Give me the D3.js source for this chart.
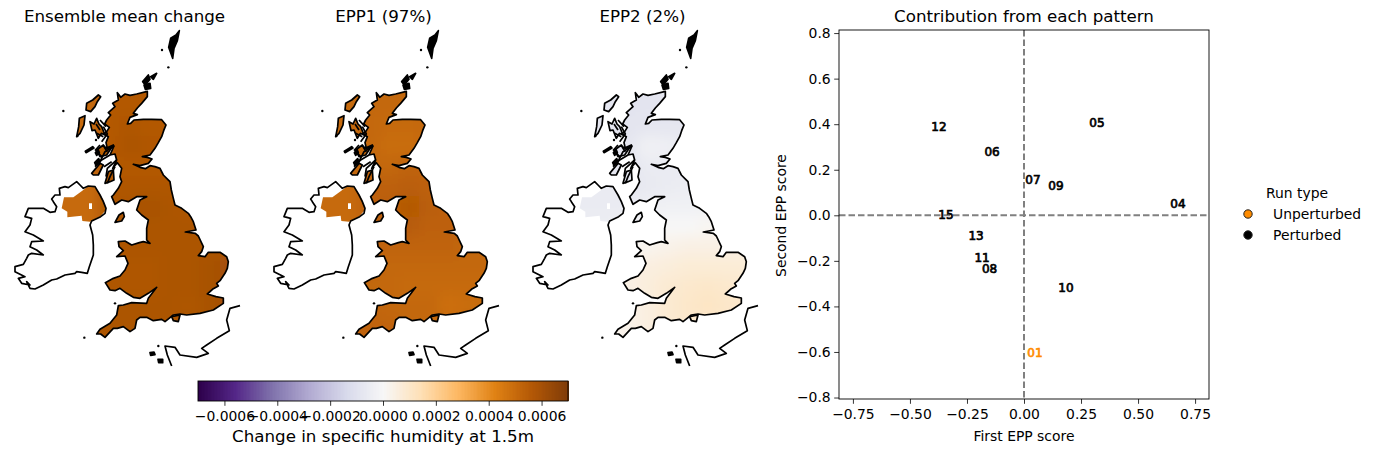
<!DOCTYPE html>
<html><head><meta charset="utf-8">
<script src="https://cdn.jsdelivr.net/npm/d3@7"></script>
<style>
html,body{margin:0;padding:0;background:#fff}
svg{display:block;font-family:"DejaVu Sans",sans-serif}
</style></head><body>
<div id="chart"></div>
<script>
// ---------- data ----------
const panelTitles = ["Ensemble mean change","EPP1 (97%)","EPP2 (2%)"];
// coastlines as [easting, southing] in model-grid units
const coastGB = [[352,218],[358,226],[362,232],[375,222],[390,226],[410,222],[442,214],[442,230],[425,250],[412,264],[400,280],[412,284],[390,292],[382,312],[392,310],[402,300],[430,298],[455,298],[485,299],[498,315],[491,332],[485,350],[475,368],[465,385],[450,405],[427,410],[442,412],[456,417],[445,430],[420,437],[400,433],[420,442],[436,446],[450,437],[465,440],[480,445],[490,465],[503,478],[510,485],[514,510],[520,535],[525,555],[545,565],[565,580],[572,590],[580,605],[588,630],[556,636],[586,640],[595,648],[610,680],[605,695],[595,707],[615,710],[625,697],[660,697],[680,710],[685,725],[682,745],[675,760],[660,782],[650,790],[655,798],[640,806],[622,822],[648,830],[670,834],[670,850],[640,870],[600,880],[560,885],[540,882],[520,885],[510,893],[495,905],[485,898],[460,902],[440,892],[420,892],[410,900],[405,925],[390,935],[370,920],[352,925],[340,925],[315,952],[302,942],[290,942],[300,928],[330,910],[350,885],[355,857],[370,855],[395,848],[440,850],[445,835],[470,802],[445,820],[420,835],[400,832],[380,820],[360,805],[345,812],[330,810],[316,788],[340,775],[360,768],[375,750],[384,730],[375,708],[350,710],[370,692],[357,680],[355,665],[375,663],[395,675],[418,668],[430,665],[450,670],[440,660],[440,625],[445,600],[425,585],[410,570],[420,540],[440,530],[410,530],[385,545],[365,540],[345,553],[335,530],[340,525],[355,505],[365,485],[360,470],[365,445],[352,428],[338,445],[350,420],[345,402],[330,405],[342,378],[322,385],[318,368],[325,350],[312,342],[320,335],[328,322],[314,312],[320,300],[332,285],[325,278],[345,260],[338,250],[355,240]];
const coastIreland = [[155,537],[165,525],[180,525],[178,505],[195,500],[205,503],[230,485],[240,495],[250,505],[265,498],[285,500],[300,525],[310,545],[318,565],[315,580],[302,590],[275,603],[270,615],[278,645],[280,675],[280,705],[268,740],[262,760],[245,757],[230,755],[225,760],[195,765],[170,777],[155,780],[130,795],[105,807],[90,805],[80,785],[90,795],[65,790],[55,775],[75,770],[45,755],[45,740],[70,733],[80,715],[85,705],[95,700],[130,705],[110,690],[90,680],[95,665],[130,663],[100,645],[75,635],[90,615],[95,595],[75,590],[85,565],[130,565],[150,577],[165,575],[170,560],[160,545]];
const islands = [
 [[260,250],[278,240],[295,225],[302,230],[292,245],[285,260],[272,275],[258,270]],
 [[238,295],[255,287],[252,315],[240,340],[230,350],[236,320]],
 [[270,305],[282,312],[290,295],[297,312],[305,320],[315,345],[304,340],[295,355],[285,330],[276,332]],
 [[290,390],[310,375],[318,385],[340,375],[320,405],[300,410]],
 [[275,460],[300,430],[310,435],[295,465],[280,465]],
 [[315,490],[325,455],[340,450],[342,480],[330,485]],
 [[345,607],[357,585],[370,577],[373,590],[365,603]],
 [[515,890],[540,885],[535,905],[520,902]]
];
const blackIslands = [
 [[538,32],[528,45],[512,55],[506,82],[518,115],[522,85],[532,62]],
 [[428,185],[445,165],[450,178],[436,195]],
 [[432,195],[450,190],[452,205],[436,208]],
 [[452,170],[470,160],[460,178]],
 [[450,998],[462,996],[465,1004],[452,1006]],
 [[474,1018],[488,1018],[488,1028],[476,1028]],
 [[256,394],[278,380],[282,384],[258,398]],
 [[284,428],[296,416],[300,426],[288,436]],
 [[286,398],[294,388],[298,398],[290,406]]
];
const lochs = [
 [[342,378],[315,395],[300,425]],
 [[350,420],[322,445],[318,470]],
 [[330,405],[305,420],[285,440]],
 [[310,320],[322,342],[305,365]],
 [[290,340],[310,350]],
 [[345,440],[330,470],[322,490]],
 [[300,375],[285,392]],
 [[300,300],[318,320]],
 [[288,312],[300,330]],
 [[312,380],[322,395]],
 [[296,400],[306,412]],
 [[335,425],[312,440]]
];
const specks = [[190,273],[486,90],[505,142],[345,850],[253,953],[232,348],[288,360],[475,978]];
const coastFrance = [[720,857],[690,865],[680,900],[688,932],[650,955],[620,975],[605,985],[625,1000],[590,1012],[540,1005],[525,982],[495,978],[502,1005],[515,1038]];
const landNI = [[192,532],[185,565],[202,575],[202,592],[245,587],[247,603],[270,605],[300,590],[318,570],[310,540],[295,515],[285,502],[265,498],[250,510],[220,532]];
const holeNI = [[267,550],[276,550],[276,567],[267,567]];
// coarse field rows (values in 1e-4 specific humidity), cell centres on these axes
const fieldEast = [210,270,330,390,450,510,570,630,690];
const fieldSouth = [200,260,320,380,440,500,560,620,680,740,800,860,920,980];
const fieldMean = [
 [5.0,5.0,5.6,5.6,5.6,5.6,5.6,5.6,5.6],
 [5.0,5.0,5.6,5.6,5.6,5.6,5.6,5.6,5.6],
 [5.0,5.0,5.6,5.7,5.6,5.6,5.6,5.6,5.6],
 [5.0,5.0,5.6,5.8,5.7,5.6,5.6,5.6,5.6],
 [5.0,5.0,5.6,5.6,5.6,5.6,5.6,5.6,5.6],
 [5.0,5.0,5.7,5.7,5.7,5.7,5.7,5.7,5.7],
 [5.0,5.0,5.7,5.8,5.9,5.8,5.7,5.7,5.7],
 [5.0,5.0,5.7,5.8,5.8,5.8,5.8,5.7,5.7],
 [5.7,5.7,5.7,5.8,5.8,5.8,5.8,5.8,5.8],
 [5.7,5.7,5.7,5.7,5.7,5.8,5.8,5.9,6.0],
 [5.7,5.7,5.7,5.7,5.7,5.8,5.8,5.9,6.0],
 [5.7,5.7,5.8,5.8,5.8,5.8,5.7,5.9,6.0],
 [5.7,5.7,5.8,5.8,5.8,5.8,5.8,5.9,6.0],
 [5.7,5.7,5.8,5.8,5.8,5.8,5.8,5.9,6.0]];
const fieldEpp1 = [
 [5.0,5.0,5.1,5.1,5.1,5.1,5.1,5.1,5.1],
 [5.0,5.0,5.1,5.1,5.1,5.1,5.1,5.1,5.1],
 [5.0,5.0,5.1,5.0,5.0,5.1,5.1,5.1,5.1],
 [5.0,5.0,5.1,4.9,4.9,5.0,5.1,5.1,5.1],
 [5.0,5.0,5.1,5.1,5.2,5.2,5.2,5.2,5.2],
 [5.0,5.0,5.3,5.3,5.4,5.3,5.2,5.2,5.2],
 [5.0,5.0,5.3,5.4,5.6,5.4,5.3,5.2,5.2],
 [5.0,5.0,5.2,5.3,5.5,5.3,5.3,5.2,5.2],
 [5.2,5.2,5.2,5.2,5.2,5.2,5.2,5.1,5.1],
 [5.2,5.2,5.2,5.1,5.1,5.1,5.1,5.1,5.1],
 [5.2,5.2,5.1,5.1,5.0,5.0,5.0,5.0,5.0],
 [5.2,5.2,5.2,5.1,5.1,5.1,4.8,4.9,5.0],
 [5.2,5.2,5.2,5.2,5.1,5.1,5.1,5.1,5.1],
 [5.2,5.2,5.2,5.2,5.1,5.1,5.1,5.1,5.1]];
const fieldEpp2 = [
 [-0.8,-0.8,-0.9,-0.9,-0.8,-0.8,-0.8,-0.8,-0.8],
 [-0.8,-0.8,-0.9,-0.9,-0.8,-0.8,-0.8,-0.8,-0.8],
 [-0.8,-0.8,-0.9,-0.8,-0.8,-0.8,-0.8,-0.8,-0.8],
 [-0.8,-0.8,-0.8,-0.3,-0.4,-0.7,-0.8,-0.8,-0.8],
 [-0.8,-0.8,-0.9,-0.6,-0.6,-0.7,-0.8,-0.8,-0.8],
 [-0.6,-0.6,-0.8,-0.7,-0.6,-0.5,-0.5,-0.5,-0.5],
 [-0.6,-0.6,-0.6,-0.4,-0.3,-0.3,-0.3,-0.3,-0.3],
 [-0.5,-0.5,-0.3,-0.1,0.0,0.0,0.1,0.1,0.1],
 [-0.2,-0.2,0.1,0.2,0.3,0.4,0.4,0.4,0.4],
 [0.3,0.3,0.4,0.5,0.6,0.7,0.7,0.7,0.7],
 [0.4,0.4,0.4,0.6,0.8,0.9,1.0,0.9,0.8],
 [0.3,0.3,0.3,0.5,0.8,1.0,1.1,1.0,0.9],
 [0.2,0.2,0.3,0.5,0.8,0.9,0.9,0.9,0.9],
 [0.2,0.2,0.3,0.5,0.8,0.9,0.9,0.9,0.9]];
const fields = [fieldMean, fieldEpp1, fieldEpp2];
const puOrStops = ['#2d004b','#542788','#8073ac','#b2abd2','#d8daeb','#f7f7f7','#fee0b6','#fdb863','#e08214','#b35806','#7f3b08'];
const colorbarTicks = [-0.0006,-0.0004,-0.0002,0,0.0002,0.0004,0.0006];
const runLabels = ["01","04","05","06","07","08","09","10","11","12","13","15"];
const eppFirst  = [0.048,0.675,0.320,-0.140,0.039,-0.151,0.140,0.184,-0.184,-0.373,-0.210,-0.342];
const eppSecond = [-0.603,0.053,0.405,0.280,0.158,-0.233,0.132,-0.317,-0.185,0.388,-0.088,0.004];
const xTicks = [-0.75,-0.5,-0.25,0,0.25,0.5,0.75];
const yTicks = [-0.8,-0.6,-0.4,-0.2,0,0.2,0.4,0.6,0.8];
const legendItems = [["Unperturbed","#ff8c00"],["Perturbed","#000000"]];

// ---------- page ----------
const W=1376,H=454;
const svg=d3.select("#chart").append("svg").attr("width",W).attr("height",H);
const defs=svg.append("defs");
const color=d3.scaleLinear().domain(d3.range(11).map(i=>-0.0007+i*0.00014)).range(puOrStops).clamp(true);

// maps
const ex=d3.scaleLinear().domain([0,780]).range([0,260]);
const sy=d3.scaleLinear().domain([0,1050]).range([20,370]);
const line=d3.line().x(d=>ex(d[0])).y(d=>sy(d[1]));
const closed=d=>line(d)+"Z";
defs.append("filter").attr("id","smooth").attr("x","-5%").attr("y","-5%").attr("width","110%").attr("height","110%")
  .append("feGaussianBlur").attr("stdDeviation",7);
const clip=defs.append("clipPath").attr("id","land");
clip.append("path").attr("d",closed(coastGB));
clip.append("path").attr("clip-rule","evenodd").attr("d",closed(landNI)+closed(holeNI));
islands.forEach(p=>clip.append("path").attr("d",closed(p)));

const offsets=[0,259,518];
const pad=90; // edge cells extend past the grid so the smoothing keeps its colour at the rim
panelTitles.forEach((t,i)=>{
  const g=svg.append("g").attr("transform",`translate(${offsets[i]},0)`);
  const clipG=g.append("g").attr("clip-path","url(#land)");
  const cells=clipG.append("g").attr("filter","url(#smooth)");
  fields[i].forEach((row,r)=>row.forEach((v,c)=>{
    const x0=fieldEast[c]-31-(c===0?pad:0), x1=fieldEast[c]+31+(c===row.length-1?pad:0);
    const y0=fieldSouth[r]-31-(r===0?pad:0), y1=fieldSouth[r]+31+(r===fields[i].length-1?pad:0);
    cells.append("rect").attr("x",ex(x0)).attr("y",sy(y0))
      .attr("width",ex(x1)-ex(x0)).attr("height",sy(y1)-sy(y0)).attr("fill",color(v*1e-4));
  }));
  const s={fill:"none",stroke:"#000","stroke-width":1.7,"stroke-linejoin":"round"};
  const draw=(d)=>{const p=g.append("path").attr("d",d);Object.entries(s).forEach(([k,v])=>p.attr(k,v));return p;};
  draw(closed(coastGB));draw(closed(coastIreland));draw(line(coastFrance));
  islands.forEach(p=>draw(closed(p)));
  lochs.forEach(p=>draw(line(p)));
  blackIslands.forEach(p=>draw(closed(p)).attr("fill","#000"));
  specks.forEach(p=>g.append("circle").attr("cx",ex(p[0])).attr("cy",sy(p[1])).attr("r",1.2).attr("fill","#000"));
  g.append("text").attr("x",124.5).attr("y",22).attr("text-anchor","middle").attr("font-size",16.7).text(t);
});

// colorbar
const cb=d3.scaleLinear().domain([-0.0007,0.0007]).range([198,568]);
const cbG=svg.append("g").attr("shape-rendering","crispEdges");
cbG.selectAll("rect").data(d3.range(-0.0007,0.0007,0.0014/256)).join("rect")
  .attr("x",d=>cb(d)).attr("y",381).attr("width",370/256+1).attr("height",20).attr("fill",d=>color(d));
svg.append("rect").attr("x",198).attr("y",381).attr("width",370).attr("height",20).attr("fill","none").attr("stroke","#000").attr("stroke-width",0.9);
const fmt4=d=>(d<0?"\u2212":"")+Math.abs(d).toFixed(4);
const cbAxis=d3.axisBottom(cb).tickValues(colorbarTicks).tickFormat(fmt4).tickSize(4.8).tickPadding(5);
const cbA=svg.append("g").attr("transform","translate(0,401)").call(cbAxis);
cbA.select(".domain").remove();
cbA.selectAll("text").attr("font-size",13.9).attr("font-family","DejaVu Sans").attr("fill","#000");
cbA.selectAll("line").attr("stroke","#000").attr("stroke-width",0.8);
svg.append("text").attr("x",383).attr("y",442).attr("text-anchor","middle").attr("font-size",16.7).text("Change in specific humidity at 1.5m");

// scatter
const x=d3.scaleLinear().domain([-0.811,0.811]).range([839,1209]);
const y=d3.scaleLinear().domain([-0.81,0.81]).range([399.8,30.8]);
const xAx=svg.append("g").attr("transform","translate(0,399)").call(d3.axisBottom(x).tickValues(xTicks).tickFormat(d=>(d<0?"\u2212":"")+Math.abs(d).toFixed(2)).tickSize(4.8).tickPadding(5));
const yAx=svg.append("g").attr("transform","translate(839,0)").call(d3.axisLeft(y).tickValues(yTicks).tickFormat(d=>(d<0?"\u2212":"")+Math.abs(d).toFixed(1)).tickSize(4.8).tickPadding(3.5));
[xAx,yAx].forEach(a=>{a.select(".domain").remove();a.selectAll("text").attr("font-size",13.9).attr("font-family","DejaVu Sans").attr("fill","#000");a.selectAll("line").attr("stroke","#000").attr("stroke-width",0.8);});
const dash={stroke:"#808080","stroke-width":2,"stroke-dasharray":"6.5,3"};
const h=svg.append("line").attr("x1",839).attr("x2",1209).attr("y1",y(0)).attr("y2",y(0));
const v=svg.append("line").attr("y1",30).attr("y2",399).attr("x1",x(0)).attr("x2",x(0));
[h,v].forEach(l=>Object.entries(dash).forEach(([k,val])=>l.attr(k,val)));
svg.append("rect").attr("x",839).attr("y",30).attr("width",370).attr("height",369).attr("fill","none").attr("stroke","#000").attr("stroke-width",0.9);
svg.append("g").selectAll("text").data(runLabels).join("text")
  .attr("x",(d,i)=>x(eppFirst[i])).attr("y",(d,i)=>y(eppSecond[i])+4.3)
  .attr("text-anchor","middle").attr("font-size",12)
  .attr("stroke",d=>d==="01"?"#ff8c00":"#000").attr("stroke-width",0.7)
  .attr("fill",d=>d==="01"?"#ff8c00":"#000").text(d=>d);
svg.append("text").attr("x",1024).attr("y",22).attr("text-anchor","middle").attr("font-size",16.7).text("Contribution from each pattern");
svg.append("text").attr("x",1024).attr("y",441).attr("text-anchor","middle").attr("font-size",13.9).text("First EPP score");
svg.append("text").attr("transform","translate(786,215.5) rotate(-90)").attr("text-anchor","middle").attr("font-size",13.9).text("Second EPP score");

// legend
svg.append("text").attr("x",1266).attr("y",198).attr("font-size",13.9).text("Run type");
legendItems.forEach(([name,c],i)=>{
  svg.append("circle").attr("cx",1248).attr("cy",214+i*21).attr("r",4.2).attr("fill",c).attr("stroke","#222").attr("stroke-width",1);
  svg.append("text").attr("x",1273).attr("y",219+i*21).attr("font-size",13.9).text(name);
});
</script></body></html>
